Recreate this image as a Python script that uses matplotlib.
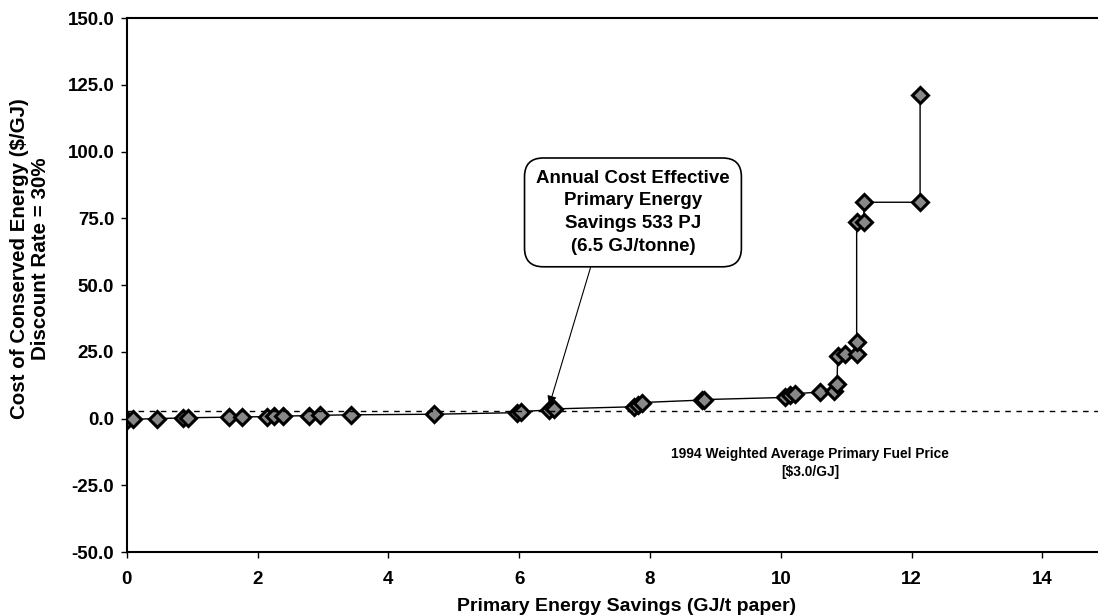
import matplotlib
matplotlib.use("Agg")
from matplotlib import pyplot as plt

plt.rcParams['font.family'] = ['Liberation Sans', 'DejaVu Sans']
plt.rcParams['font.weight'] = 'bold'

# cumulative primary energy savings (GJ/t paper) and cost of conserved energy ($/GJ)
savings = [0.00, 0.10, 0.47, 0.86, 0.93, 1.57, 1.76, 2.14, 2.25, 2.39, 2.79, 2.95,
           3.43, 4.70, 5.97, 6.03, 6.45, 6.53, 7.75, 7.82, 7.88, 8.79, 8.83,
           10.07, 10.14, 10.21, 10.60, 10.82, 10.86, 10.87, 10.98, 11.16, 11.16,
           11.16, 11.27, 11.27, 12.13, 12.13]
cost = [-0.5, -0.3, 0.0, 0.2, 0.3, 0.5, 0.6, 0.7, 0.8, 0.9, 1.1, 1.2,
        1.4, 1.6, 2.2, 2.6, 3.2, 3.6, 4.4, 5.2, 6.0, 6.9, 7.1,
        7.9, 8.7, 9.3, 9.9, 10.2, 12.8, 23.5, 24.0, 24.3, 28.5,
        73.5, 73.5, 81.0, 81.0, 121.0]

fuel_price = 3.0
y_ticks = [-50, -25, 0, 25, 50, 75, 100, 125, 150]
x_ticks = [0, 2, 4, 6, 8, 10, 12, 14]

fig = plt.figure(figsize=(10.98, 6.15), dpi=100)
ax = fig.add_axes([0.1154, 0.1024, 0.8846, 0.8683])

ax.plot(savings, cost, color='black', lw=1.0, marker='D', markersize=8,
        markerfacecolor='#888888', markeredgecolor='black', markeredgewidth=2.2)
ax.axhline(fuel_price, color='black', lw=1.0, ls=(0, (4, 4)))

ax.set_xlim(0, 14.85)
ax.set_ylim(-50, 150)
ax.set_xticks(x_ticks)
ax.set_yticks(y_ticks)
ax.set_yticklabels(['%.1f' % v for v in y_ticks])
ax.tick_params(axis='both', direction='out', length=4, width=1, labelsize=13.5)
ax.tick_params(axis='y', pad=5)
ax.tick_params(axis='x', pad=10)
for s in ['left', 'bottom', 'top']:
    ax.spines[s].set_linewidth(1.5)
ax.spines['right'].set_visible(False)

ax.set_xlabel('Primary Energy Savings (GJ/t paper)', fontsize=14, fontweight='bold')
ax.xaxis.set_label_coords(0.515, -0.086)
ax.set_ylabel('Cost of Conserved Energy ($/GJ)\nDiscount Rate = 30%', fontsize=14.8,
              fontweight='bold', linespacing=1.1)
ax.yaxis.set_label_coords(-0.079, 0.55)

ax.annotate('Annual Cost Effective\nPrimary Energy\nSavings 533 PJ\n(6.5 GJ/tonne)',
            xy=(6.46, 4.9), xytext=(7.74, 77.2), ha='center', va='center',
            fontsize=13.5, fontweight='bold', linespacing=1.45,
            bbox=dict(boxstyle='round,pad=0.62,rounding_size=1.0', fc='white', ec='black', lw=1.2),
            arrowprops=dict(arrowstyle='-|>', color='black', lw=0.8, shrinkA=0, shrinkB=0,
                            relpos=(0.3, 0), mutation_scale=14))

ax.text(10.45, -16.6, '1994 Weighted Average Primary Fuel Price\n[$3.0/GJ]',
        ha='center', va='center', fontsize=9.9, fontweight='bold', linespacing=1.4)

fig.savefig('out.png', dpi=100)
